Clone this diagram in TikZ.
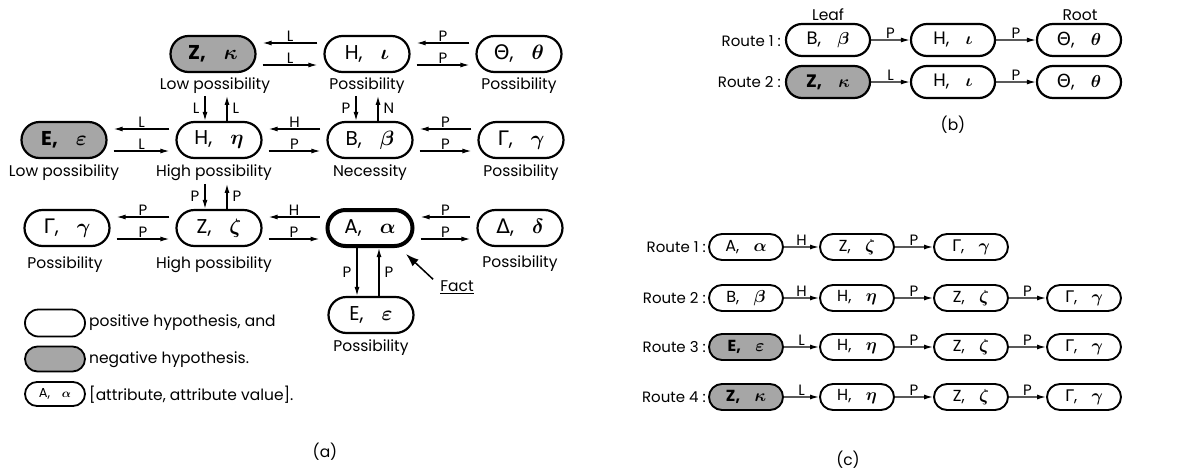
\documentclass[tikz,border=0pt]{standalone}
\usepackage{fontspec}
\setmainfont{Poppins}
\newfontfamily\gk{DejaVu Sans}
\usetikzlibrary{shapes.misc,arrows.meta,calc}
\newcommand{\attr}[2]{#1,\hspace{0.9em}#2}
\begin{document}
\begin{tikzpicture}[x=1pt,y=-1pt,
  hyp/.style={rounded rectangle, draw, line width=2.2pt, inner sep=0pt,
    minimum width=85pt, minimum height=36pt, font=\fontsize{20pt}{22pt}\selectfont\boldmath},
  neg/.style={hyp, fill=black!35, font=\fontsize{20pt}{22pt}\selectfont\bfseries\boldmath},
  hypb/.style={hyp, minimum width=84pt, minimum height=32pt, font=\fontsize{18pt}{21pt}\selectfont\boldmath},
  negb/.style={hypb, fill=black!35, font=\fontsize{18pt}{21pt}\selectfont\bfseries\boldmath},
  hypc/.style={hyp, line width=1.9pt, minimum width=74pt, minimum height=26pt, font=\fontsize{16pt}{18pt}\selectfont\boldmath},
  negc/.style={hypc, fill=black!35, font=\fontsize{16pt}{18pt}\selectfont\bfseries\boldmath},
  lab/.style={inner sep=0pt, font=\fontsize{15.5pt}{18pt}\selectfont},
  rlab/.style={inner sep=0pt, font=\fontsize{15pt}{18pt}\selectfont},
  alab/.style={inner sep=1pt, font=\fontsize{15pt}{17pt}\selectfont},
  arr/.style={line width=1.3pt, -{Latex[length=9pt,width=5pt]}}
]
\useasboundingbox (0,0) rectangle (1184,472);

% ---------------- (a) ----------------
\node[neg] (Zk) at (213,54) {\attr{Z}{$\kappa$}};
\node[hyp] (Hi) at (367,54) {\attr{H}{$\iota$}};
\node[hyp] (Th) at (519,54) {\attr{{\gk Θ}}{$\theta$}};
\node[neg] (Ee) at (64,140) {\attr{E}{$\varepsilon$}};
\node[hyp] (He) at (219,140) {\attr{H}{$\eta$}};
\node[hyp] (Bb) at (370,140) {\attr{B}{$\beta$}};
\node[hyp] (Gga) at (521,140) {\attr{{\gk Γ}}{$\gamma$}};
\node[hyp] (Ggb) at (67,228) {\attr{{\gk Γ}}{$\gamma$}};
\node[hyp] (Zz) at (219,228) {\attr{Z}{$\zeta$}};
\node[hyp, line width=4pt] (Aa) at (370,228) {\attr{A}{$\alpha$}};
\node[hyp] (Dd) at (520,228) {\attr{{\gk Δ}}{$\delta$}};
\node[hyp] (Eeb) at (371,315) {\attr{E}{$\varepsilon$}};

\node[lab] (lZk) at (215,86) {Low possibility};
\node[lab] (lHi) at (367,86) {Possibility};
\node[lab] (lTh) at (519,86) {Possibility};
\node[lab] (lEe) at (64,173) {Low possibility};
\node[lab] (lHe) at (214,173) {High possibility};
\node[lab] (lBb) at (370,173) {Necessity};
\node[lab] (lGga) at (521,173) {Possibility};
\node[lab] (lGgb) at (65,265) {Possibility};
\node[lab] (lZz) at (214,265) {High possibility};
\node[lab] (lDd) at (520,264) {Possibility};
\node[lab] (lEeb) at (371,348) {Possibility};

\foreach \l/\r/\u/\d in {Zk/Hi/L/L, Hi/Th/P/P, Ee/He/L/L, He/Bb/H/P, Bb/Gga/P/P, Ggb/Zz/P/P, Zz/Aa/H/P, Aa/Dd/P/P}{
  \draw[arr] ($(\r.west)+(-6,-11)$) -- ($(\l.east)+(6,-11)$) node[alab,midway,above]{\u};
  \draw[arr] ($(\l.east)+(6,11)$) -- ($(\r.west)+(-6,11)$) node[alab,midway,above]{\d};
}

\foreach \n/\a/\b in {He/L/L, Zz/P/P, Bb/P/N}{
  \draw[arr] ($(\n.north)+(-14,-25)$) -- ($(\n.north)+(-14,0)$) node[alab,midway,left,inner sep=5pt]{\a};
  \draw[arr] ($(\n.north)+(8,0)$) -- ($(\n.north)+(8,-25)$) node[alab,midway,right,inner sep=5pt]{\b};
}
\draw[arr] ([xshift=-13pt]Aa.south) -- ([xshift=-14pt]Eeb.north) node[alab,midway,left,inner sep=5pt]{P};
\draw[arr] ([xshift=8pt]Eeb.north) -- ([xshift=9pt]Aa.south) node[alab,midway,right,inner sep=5pt]{P};

\node[lab] (fact) at (457,287) {\underline{Fact}};
\coordinate (ftip) at (406,254);
\draw[line width=1.5pt, -{Latex[length=13pt,width=9pt]}] ($(fact.north west)+(-7,-1)$) -- (ftip);

% legend
\node[hyp, line width=1.8pt, minimum width=60pt, minimum height=27pt] (lg1) at (55,323) {};
\node[neg, line width=1.8pt, minimum width=60pt, minimum height=25pt] (lg2) at (55,359) {};
\node[hyp, line width=1.8pt, minimum width=60pt, minimum height=24pt, font=\fontsize{13pt}{15pt}\selectfont\boldmath] (lg3) at (55,394) {\attr{A}{$\alpha$}};
\node[lab, anchor=west] (tl1) at (89,323) {positive hypothesis, and};
\node[lab, anchor=west] (tl2) at (89,360) {negative hypothesis.};
\node[lab, anchor=west] (tl3) at (89,395) {[attribute, attribute value].};
\node[lab] (capa) at (325,452) {(a)};

% ---------------- (b) ----------------
\node[rlab, anchor=east] (rb1) at (781,41) {Route 1 :};
\node[rlab, anchor=east] (rb2) at (781,82) {Route 2 :};
\node[hypb] (b1) at (828,40) {\attr{B}{$\beta$}};
\node[hypb] (b2) at (953,40) {\attr{H}{$\iota$}};
\node[hypb] (b3) at (1079,40) {\attr{{\gk Θ}}{$\theta$}};
\node[negb] (b4) at (828,82) {\attr{Z}{$\kappa$}};
\node[hypb] (b5) at (953,82) {\attr{H}{$\iota$}};
\node[hypb] (b6) at (1079,82) {\attr{{\gk Θ}}{$\theta$}};
\node[lab] (leaf) at (828,15) {Leaf};
\node[lab] (root) at (1080,15) {Root};
\draw[arr] (b1) -- (b2) node[alab,midway,above]{P};
\draw[arr] (b2) -- (b3) node[alab,midway,above]{P};
\draw[arr] (b4) -- (b5) node[alab,midway,above]{L};
\draw[arr] (b5) -- (b6) node[alab,midway,above]{P};
\node[lab] (capb) at (953,125) {(b)};

% ---------------- (c) ----------------
\node[rlab, anchor=east] (rc1) at (706,247) {Route 1 :};
\node[rlab, anchor=east] (rc2) at (706,298) {Route 2 :};
\node[rlab, anchor=east] (rc3) at (706,347) {Route 3 :};
\node[rlab, anchor=east] (rc4) at (706,397) {Route 4 :};

\node[hypc] (c11) at (746,247) {\attr{A}{$\alpha$}};
\node[hypc] (c12) at (857,247) {\attr{Z}{$\zeta$}};
\node[hypc] (c13) at (971,247) {\attr{{\gk Γ}}{$\gamma$}};

\node[hypc] (c21) at (746,298) {\attr{B}{$\beta$}};
\node[hypc] (c22) at (857,298) {\attr{H}{$\eta$}};
\node[hypc] (c23) at (971,298) {\attr{Z}{$\zeta$}};
\node[hypc] (c24) at (1084,298) {\attr{{\gk Γ}}{$\gamma$}};

\node[negc] (c31) at (746,347) {\attr{E}{$\varepsilon$}};
\node[hypc] (c32) at (857,347) {\attr{H}{$\eta$}};
\node[hypc] (c33) at (971,347) {\attr{Z}{$\zeta$}};
\node[hypc] (c34) at (1084,347) {\attr{{\gk Γ}}{$\gamma$}};

\node[negc] (c41) at (746,397) {\attr{Z}{$\kappa$}};
\node[hypc] (c42) at (857,397) {\attr{H}{$\eta$}};
\node[hypc] (c43) at (971,397) {\attr{Z}{$\zeta$}};
\node[hypc] (c44) at (1084,397) {\attr{{\gk Γ}}{$\gamma$}};

\draw[arr] (c11) -- (c12) node[alab,midway,above]{H};
\draw[arr] (c12) -- (c13) node[alab,midway,above]{P};
\draw[arr] (c21) -- (c22) node[alab,midway,above]{H};
\draw[arr] (c22) -- (c23) node[alab,midway,above]{P};
\draw[arr] (c23) -- (c24) node[alab,midway,above]{P};
\draw[arr] (c31) -- (c32) node[alab,midway,above]{L};
\draw[arr] (c32) -- (c33) node[alab,midway,above]{P};
\draw[arr] (c33) -- (c34) node[alab,midway,above]{P};
\draw[arr] (c41) -- (c42) node[alab,midway,above]{L};
\draw[arr] (c42) -- (c43) node[alab,midway,above]{P};
\draw[arr] (c43) -- (c44) node[alab,midway,above]{P};
\node[lab] (capc) at (848,460) {(c)};
\end{tikzpicture}
\end{document}
